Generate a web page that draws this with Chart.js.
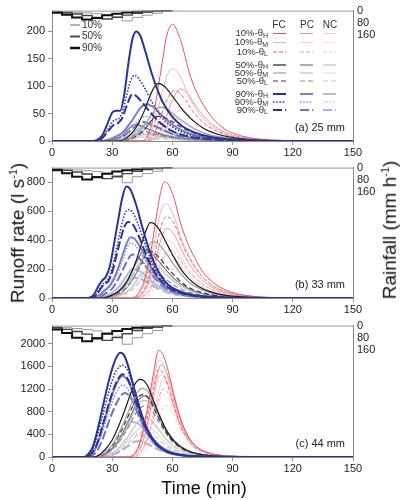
<!DOCTYPE html>
<html>
<head>
<meta charset="utf-8">
<script src="https://cdn.jsdelivr.net/npm/chart.js@4.4.1/dist/chart.umd.min.js"></script>
<style>
  body { margin: 0; background: #fff; width: 400px; height: 500px; position: relative; overflow: hidden;
         font-family: 'Liberation Sans', Arial, sans-serif; }
  canvas { position: absolute; left: 0; }
  .ttl { position: absolute; font-size: 19px; color: #111; white-space: nowrap; transform: translate(-50%, -50%); }
  .rot { transform: translate(-50%, -50%) rotate(-90deg); }
  .ttl sup { font-size: 11px; }
</style>
</head>
<body>
<canvas id="ca" width="400" height="160" style="top:0"></canvas>
<canvas id="cb" width="400" height="160" style="top:157px"></canvas>
<canvas id="cc" width="400" height="161" style="top:315px"></canvas>
<div class="ttl rot" style="left:18px;top:233px">Runoff rate (l s<sup>-1</sup>)</div>
<div class="ttl rot" style="left:390px;top:230px">Rainfall (mm h<sup>-1</sup>)</div>
<div class="ttl" style="left:204px;top:488px;font-size:18px">Time (min)</div>

<script>
// ---- ejes
const TIME_TICKS = [0, 30, 60, 90, 120, 150];
const RAIN_TICKS = [0, 80, 160];
const RAIN_MAX = 860;
const aTicks = [0, 50, 100, 150, 200];
const bTicks = [0, 200, 400, 600, 800];
const cTicks = [0, 400, 800, 1200, 1600, 2000];
const aMax = 238, bMax = 900, cMax = 2320;

// ---- hietogramas (mm/h, pasos de 5 min)
const hyetT = [0, 5, 10, 15, 20, 25, 30, 35, 40, 45, 50, 55, 60];
const aHy90 = [6, 14, 28, 45, 58, 48, 30, 20, 13, 8, 4, 2, 0];
const aHy50 = [4, 8, 14, 22, 32, 45, 55, 45, 30, 18, 10, 5, 0];
const aHy10 = [2, 5, 8, 11, 15, 20, 27, 40, 68, 45, 30, 18, 0];
const bHy90 = [8, 18, 37, 60, 78, 63, 40, 26, 17, 11, 5, 3, 0];
const bHy50 = [5, 11, 18, 29, 42, 60, 73, 60, 40, 24, 13, 7, 0];
const bHy10 = [3, 7, 11, 15, 20, 26, 36, 53, 100, 60, 40, 24, 0];
const cHy90 = [11, 25, 49, 79, 103, 84, 53, 35, 23, 14, 7, 4, 0];
const cHy50 = [7, 14, 25, 39, 56, 79, 97, 79, 53, 32, 18, 9, 0];
const cHy10 = [4, 9, 14, 19, 26, 35, 48, 70, 122, 79, 53, 32, 0];

// ---- (a) 25 mm  [tiempo min, caudal l/s]
const aB_FC_H = [[0,0],[20,0],[25,10],[28,35],[30,52],[32,55],[34,55],[36,85],[38,140],[40,185],[42,200],[44,192],[46,170],[50,120],[55,72],[60,44],[65,27],[70,17],[80,7],[90,3],[100,1],[120,0],[150,0]];
const aB_FC_M = [[0,0],[21,0],[25,6],[28,22],[31,38],[33,40],[35,52],[37,80],[39,108],[41,120],[43,115],[46,98],[50,70],[55,42],[60,26],[65,16],[70,10],[80,4],[90,2],[100,0],[150,0]];
const aB_FC_L = [[0,0],[21,0],[25,5],[28,18],[31,30],[33,33],[35,42],[37,62],[40,85],[42,82],[45,70],[50,48],[55,30],[60,18],[65,11],[70,7],[80,3],[90,1],[100,0],[150,0]];
const aB_PC_H = [[0,0],[25,0],[30,5],[35,15],[40,38],[44,60],[47,67],[50,63],[55,46],[60,30],[65,19],[70,12],[80,5],[90,2],[100,0],[150,0]];
const aB_PC_M = [[0,0],[26,0],[31,4],[36,12],[41,30],[46,45],[50,41],[55,29],[60,18],[65,11],[70,7],[80,3],[90,1],[100,0],[150,0]];
const aB_PC_L = [[0,0],[26,0],[31,3],[36,10],[41,25],[45,35],[49,31],[55,21],[60,13],[65,8],[70,5],[80,2],[90,0],[150,0]];
const aB_NC_H = [[0,0],[28,0],[34,3],[40,14],[44,25],[47,30],[51,27],[57,17],[63,9],[70,5],[80,2],[95,0],[150,0]];
const aB_NC_M = [[0,0],[28,0],[34,2],[40,9],[44,16],[47,20],[51,18],[57,11],[63,6],[70,3],[80,1],[95,0],[150,0]];
const aB_NC_L = [[0,0],[28,0],[34,2],[40,7],[43,12],[46,15],[50,13],[56,8],[62,5],[70,2],[80,1],[95,0],[150,0]];
const aK_FC_H = [[0,0],[33,0],[38,8],[42,25],[46,55],[50,92],[53,105],[56,100],[60,82],[64,62],[70,38],[76,22],[85,10],[95,4],[105,1],[120,0],[150,0]];
const aK_FC_M = [[0,0],[34,0],[39,5],[43,15],[47,34],[51,55],[54,62],[57,59],[61,48],[65,36],[71,22],[77,13],[86,6],[96,2],[110,0],[150,0]];
const aK_FC_L = [[0,0],[34,0],[39,4],[43,11],[47,25],[50,39],[53,45],[56,43],[60,35],[64,26],[70,16],[76,9],[85,4],[95,1],[110,0],[150,0]];
const aK_PC_H = [[0,0],[28,0],[32,4],[35,10],[38,22],[41,30],[44,28],[48,22],[53,14],[58,9],[65,5],[75,2],[90,0],[150,0]];
const aK_PC_M = [[0,0],[30,0],[35,3],[39,9],[42,17],[45,22],[48,21],[52,16],[58,10],[65,5],[75,2],[90,0],[150,0]];
const aK_PC_L = [[0,0],[30,0],[35,2],[39,7],[42,14],[44,18],[47,17],[52,12],[58,7],[65,4],[75,1],[90,0],[150,0]];
const aK_NC_H = [[0,0],[32,0],[37,2],[41,6],[44,10],[46,12],[49,11],[54,8],[60,5],[67,2],[80,0],[150,0]];
const aK_NC_M = [[0,0],[32,0],[37,1],[41,4],[44,7],[46,9],[49,8],[54,6],[60,3],[67,2],[80,0],[150,0]];
const aK_NC_L = [[0,0],[32,0],[37,1],[41,3],[43,5],[45,7],[48,6],[54,4],[60,2],[70,1],[80,0],[150,0]];
const aR_FC_H = [[0,0],[45,0],[48,12],[50,35],[53,100],[55,145],[57,190],[60,213],[64,185],[69,118],[74,75],[80,42],[86,22],[92,12],[100,5],[110,2],[125,0],[150,0]];
const aR_FC_M = [[0,0],[45,0],[48,7],[50,20],[53,60],[55,90],[57,117],[60,132],[64,117],[69,75],[74,47],[80,26],[86,14],[92,7],[100,3],[110,1],[125,0],[150,0]];
const aR_FC_L = [[0,0],[46,0],[49,5],[51,14],[54,42],[56,63],[58,81],[61,92],[65,82],[70,55],[75,35],[81,20],[87,11],[95,5],[105,2],[120,0],[150,0]];
const aR_PC_H = [[0,0],[47,0],[51,5],[54,18],[57,45],[60,75],[64,95],[68,85],[72,62],[77,40],[83,22],[90,11],[100,4],[112,1],[125,0],[150,0]];
const aR_PC_M = [[0,0],[47,0],[51,4],[54,12],[57,30],[59,45],[62,60],[66,54],[71,36],[76,22],[82,12],[90,5],[100,2],[115,0],[150,0]];
const aR_PC_L = [[0,0],[47,0],[51,3],[54,10],[57,25],[60,42],[63,55],[67,50],[72,33],[77,21],[83,11],[90,5],[100,2],[115,0],[150,0]];
const aR_NC_H = [[0,0],[46,0],[50,3],[53,8],[56,18],[59,31],[62,40],[66,36],[71,24],[77,13],[84,6],[95,2],[110,0],[150,0]];
const aR_NC_M = [[0,0],[46,0],[50,2],[53,6],[56,13],[59,22],[62,28],[66,25],[71,17],[77,9],[84,4],[95,1],[110,0],[150,0]];
const aR_NC_L = [[0,0],[47,0],[51,2],[54,5],[57,11],[60,18],[62,22],[66,20],[71,13],[77,7],[84,3],[95,1],[110,0],[150,0]];

// ---- (b) 33 mm
const bB_FC_H = [[0,0],[18,0],[21,25],[23,80],[25,120],[27,150],[29,230],[31,380],[33,540],[35,690],[37,770],[39,750],[42,640],[45,490],[48,350],[52,210],[56,120],[60,70],[66,35],[72,17],[80,7],[90,2],[100,0],[150,0]];
const bB_FC_M = [[0,0],[19,0],[22,25],[24,70],[26,105],[28,130],[30,210],[32,330],[34,460],[36,570],[38,610],[40,595],[43,505],[46,385],[49,275],[53,165],[57,95],[61,55],[67,27],[73,13],[81,5],[90,2],[100,0],[150,0]];
const bB_FC_L = [[0,0],[19,0],[22,20],[24,60],[26,95],[28,115],[30,180],[32,285],[34,395],[36,490],[38,525],[40,512],[43,435],[46,330],[49,235],[53,140],[57,82],[61,48],[67,23],[73,11],[81,4],[90,1],[100,0],[150,0]];
const bB_PC_H = [[0,0],[20,0],[23,15],[26,50],[29,90],[32,170],[35,290],[37,370],[39,420],[41,410],[44,350],[47,270],[51,170],[55,100],[60,52],[66,25],[74,10],[84,3],[95,0],[150,0]];
const bB_PC_M = [[0,0],[20,0],[23,12],[26,45],[29,80],[32,150],[35,260],[37,335],[39,380],[41,370],[44,315],[47,245],[51,155],[55,90],[60,47],[66,22],[74,9],[84,3],[95,0],[150,0]];
const bB_PC_L = [[0,0],[21,0],[24,10],[27,35],[30,65],[33,130],[36,215],[38,270],[40,300],[42,292],[45,250],[48,195],[52,125],[56,73],[61,38],[67,18],[75,7],[85,2],[95,0],[150,0]];
const bB_NC_H = [[0,0],[22,0],[26,10],[30,35],[34,90],[37,150],[40,200],[43,190],[47,150],[51,100],[56,58],[62,28],[70,11],[80,4],[95,0],[150,0]];
const bB_NC_M = [[0,0],[22,0],[26,8],[30,30],[34,76],[37,128],[40,170],[43,162],[47,128],[51,85],[56,49],[62,24],[70,9],[80,3],[95,0],[150,0]];
const bB_NC_L = [[0,0],[23,0],[27,7],[31,25],[35,62],[38,105],[41,140],[44,133],[48,105],[52,70],[57,40],[63,20],[71,8],[81,2],[95,0],[150,0]];
const bK_FC_H = [[0,0],[25,0],[30,20],[34,55],[38,130],[42,260],[45,390],[47,470],[49,520],[51,512],[54,460],[57,380],[60,300],[64,205],[68,135],[73,80],[79,42],[86,20],[95,8],[105,3],[120,0],[150,0]];
const bK_FC_M = [[0,0],[26,0],[31,15],[35,40],[39,100],[43,200],[46,295],[48,355],[50,390],[52,383],[55,345],[58,285],[61,225],[65,155],[69,100],[74,60],[80,32],[87,15],[96,6],[106,2],[120,0],[150,0]];
const bK_FC_L = [[0,0],[25,0],[30,12],[34,35],[38,85],[42,170],[45,250],[48,325],[50,318],[53,285],[56,235],[59,185],[63,128],[67,82],[72,50],[78,26],[85,12],[94,5],[104,1],[120,0],[150,0]];
const bK_PC_H = [[0,0],[24,0],[29,15],[33,45],[37,110],[40,190],[43,270],[46,330],[48,322],[51,290],[54,240],[58,175],[62,120],[67,72],[73,38],[80,18],[90,6],[100,2],[115,0],[150,0]];
const bK_PC_M = [[0,0],[24,0],[29,12],[33,38],[37,95],[40,160],[43,230],[46,280],[48,273],[51,246],[54,204],[58,148],[62,102],[67,61],[73,32],[80,15],[90,5],[100,1],[115,0],[150,0]];
const bK_PC_L = [[0,0],[24,0],[29,10],[33,33],[36,75],[39,135],[42,195],[45,240],[47,234],[50,210],[53,175],[57,127],[61,87],[66,52],[72,27],[79,13],[89,4],[100,1],[115,0],[150,0]];
const bK_NC_H = [[0,0],[26,0],[31,8],[35,25],[39,65],[43,135],[46,180],[49,172],[53,138],[58,90],[63,55],[69,28],[77,12],[88,4],[100,0],[150,0]];
const bK_NC_M = [[0,0],[26,0],[31,7],[35,21],[39,54],[43,112],[46,150],[49,143],[53,115],[58,75],[63,46],[69,23],[77,10],[88,3],[100,0],[150,0]];
const bK_NC_L = [[0,0],[26,0],[31,6],[35,17],[39,45],[42,85],[45,120],[48,115],[52,92],[57,60],[62,36],[68,18],[76,8],[87,2],[100,0],[150,0]];
const bR_FC_H = [[0,0],[40,0],[43,30],[46,120],[49,300],[52,560],[54,720],[56,800],[58,785],[61,680],[64,520],[67,400],[71,280],[76,165],[82,90],[89,42],[97,17],[107,5],[120,0],[150,0]];
const bR_FC_M = [[0,0],[40,0],[43,25],[46,95],[49,245],[52,455],[54,585],[56,650],[58,638],[61,555],[64,425],[67,325],[71,225],[76,135],[82,72],[89,34],[97,14],[107,4],[120,0],[150,0]];
const bR_FC_L = [[0,0],[41,0],[44,25],[47,90],[50,230],[53,420],[55,520],[57,560],[59,550],[62,480],[65,370],[68,285],[72,195],[77,118],[83,62],[90,29],[98,12],[108,3],[120,0],[150,0]];
const bR_PC_H = [[0,0],[41,0],[44,18],[47,70],[50,185],[53,340],[55,430],[57,480],[59,470],[62,410],[65,318],[68,245],[72,168],[77,100],[83,53],[90,25],[98,10],[108,3],[120,0],[150,0]];
const bR_PC_M = [[0,0],[41,0],[44,15],[47,58],[50,155],[53,285],[55,360],[57,400],[59,392],[62,342],[65,265],[68,204],[72,140],[77,83],[83,44],[90,21],[98,8],[108,2],[120,0],[150,0]];
const bR_PC_L = [[0,0],[42,0],[45,12],[48,48],[51,128],[54,235],[56,297],[58,330],[60,323],[63,282],[66,219],[69,168],[73,115],[78,69],[84,36],[91,17],[99,7],[109,2],[120,0],[150,0]];
const bR_NC_H = [[0,0],[42,0],[45,11],[48,40],[51,110],[54,215],[57,300],[60,290],[63,245],[67,175],[72,105],[78,55],[85,26],[94,10],[105,3],[120,0],[150,0]];
const bR_NC_M = [[0,0],[42,0],[45,9],[48,33],[51,92],[54,180],[57,250],[60,242],[63,204],[67,146],[72,88],[78,46],[85,22],[94,8],[105,2],[120,0],[150,0]];
const bR_NC_L = [[0,0],[43,0],[46,7],[49,27],[52,74],[55,144],[58,200],[61,194],[64,163],[68,117],[73,70],[79,37],[86,17],[95,6],[106,2],[120,0],[150,0]];

// ---- (c) 44 mm
const cB_FC_H = [[0,0],[16,0],[18,50],[20,150],[22,380],[24,680],[26,1000],[28,1300],[30,1560],[32,1750],[34,1840],[36,1790],[38,1600],[41,1200],[45,720],[48,450],[52,240],[56,125],[60,65],[66,28],[74,10],[85,3],[100,0],[150,0]];
const cB_FC_M = [[0,0],[16,0],[18,40],[20,120],[22,300],[24,560],[26,840],[28,1110],[30,1350],[32,1520],[35,1620],[37,1570],[39,1410],[42,1060],[45,720],[48,460],[52,250],[56,130],[60,68],[66,29],[74,10],[85,3],[100,0],[150,0]];
const cB_FC_L = [[0,0],[17,0],[19,40],[21,120],[23,290],[25,530],[27,780],[29,1020],[31,1230],[33,1380],[35,1460],[37,1420],[39,1280],[42,960],[45,650],[48,420],[52,225],[56,118],[60,62],[66,26],[74,9],[85,2],[100,0],[150,0]];
const cB_PC_H = [[0,0],[17,0],[19,35],[21,110],[23,270],[25,500],[27,750],[29,990],[31,1200],[33,1350],[35,1430],[37,1390],[39,1260],[42,950],[45,650],[48,420],[52,225],[56,118],[60,62],[66,26],[74,9],[85,2],[100,0],[150,0]];
const cB_PC_M = [[0,0],[17,0],[19,30],[21,95],[23,240],[25,440],[27,660],[29,880],[31,1060],[33,1200],[35,1270],[37,1235],[39,1120],[42,845],[45,575],[48,372],[52,200],[56,105],[60,55],[66,23],[74,8],[85,2],[100,0],[150,0]];
const cB_PC_L = [[0,0],[18,0],[20,28],[22,85],[24,210],[26,390],[28,590],[30,780],[32,940],[34,1065],[36,1130],[38,1100],[40,995],[43,750],[46,510],[49,330],[53,178],[57,93],[61,49],[67,20],[75,7],[86,2],[100,0],[150,0]];
const cB_NC_H = [[0,0],[20,0],[24,20],[28,80],[32,220],[36,430],[40,620],[43,590],[46,490],[50,330],[54,200],[58,115],[64,50],[72,17],[82,5],[95,0],[150,0]];
const cB_NC_M = [[0,0],[21,0],[25,14],[29,55],[33,150],[37,290],[41,420],[44,400],[47,332],[51,224],[55,136],[59,78],[65,34],[73,12],[83,3],[95,0],[150,0]];
const cB_NC_L = [[0,0],[22,0],[26,9],[30,36],[34,100],[38,195],[42,280],[45,266],[48,221],[52,150],[56,91],[60,52],[66,23],[74,8],[84,2],[95,0],[150,0]];
const cK_FC_H = [[0,0],[21,0],[24,50],[27,150],[30,300],[33,530],[36,800],[39,1100],[41,1270],[44,1370],[46,1340],[48,1230],[50,1050],[53,780],[56,540],[59,360],[63,210],[67,120],[72,62],[80,22],[90,6],[100,0],[150,0]];
const cK_FC_M = [[0,0],[22,0],[25,45],[28,130],[31,265],[34,470],[37,710],[40,975],[42,1120],[45,1210],[47,1185],[49,1090],[51,930],[54,690],[57,478],[60,318],[64,186],[68,106],[73,55],[81,19],[91,5],[100,0],[150,0]];
const cK_FC_L = [[0,0],[22,0],[25,40],[28,118],[31,240],[34,425],[37,645],[40,885],[42,1020],[45,1100],[47,1077],[49,990],[51,845],[54,627],[57,434],[60,289],[64,169],[68,96],[73,50],[81,17],[91,4],[100,0],[150,0]];
const cK_PC_H = [[0,0],[23,0],[26,40],[29,115],[32,235],[35,415],[38,630],[41,865],[43,1000],[46,1080],[48,1057],[50,972],[52,830],[55,615],[58,426],[61,284],[65,166],[69,94],[74,49],[82,17],[92,4],[100,0],[150,0]];
const cK_PC_M = [[0,0],[23,0],[26,37],[29,106],[32,218],[35,384],[38,583],[41,800],[43,926],[46,1000],[48,979],[50,900],[52,768],[55,570],[58,394],[61,263],[65,154],[69,87],[74,45],[82,16],[92,4],[100,0],[150,0]];
const cK_PC_L = [[0,0],[23,0],[26,33],[29,95],[32,196],[35,346],[38,525],[41,720],[43,833],[46,900],[48,881],[50,810],[52,691],[55,513],[58,355],[61,237],[65,138],[69,78],[74,41],[82,14],[92,3],[100,0],[150,0]];
const cK_NC_H = [[0,0],[24,0],[28,30],[32,110],[36,270],[40,480],[43,630],[46,700],[49,660],[52,540],[56,350],[60,210],[65,105],[71,45],[80,14],[92,3],[100,0],[150,0]];
const cK_NC_M = [[0,0],[24,0],[28,24],[32,86],[36,212],[40,377],[43,495],[46,550],[49,519],[52,424],[56,275],[60,165],[65,83],[71,35],[80,11],[92,2],[100,0],[150,0]];
const cK_NC_L = [[0,0],[24,0],[28,20],[32,70],[36,174],[40,309],[43,405],[46,450],[49,424],[52,347],[56,225],[60,135],[65,68],[71,29],[80,9],[92,2],[100,0],[150,0]];
const cR_FC_H = [[0,0],[38,0],[41,60],[43,180],[45,420],[47,760],[49,1150],[51,1560],[53,1880],[55,1830],[57,1640],[59,1370],[61,1060],[64,680],[67,420],[70,250],[74,135],[80,55],[88,18],[98,5],[110,0],[150,0]];
const cR_FC_M = [[0,0],[38,0],[41,55],[43,164],[45,382],[47,690],[49,1045],[51,1420],[53,1710],[55,1665],[57,1490],[59,1245],[61,965],[64,620],[67,382],[70,228],[74,123],[80,50],[88,16],[98,5],[110,0],[150,0]];
const cR_FC_L = [[0,0],[38,0],[41,50],[43,148],[45,344],[47,622],[49,942],[51,1278],[53,1540],[55,1500],[57,1343],[59,1122],[61,868],[64,557],[67,344],[70,205],[74,111],[80,45],[88,15],[98,4],[110,0],[150,0]];
const cR_PC_H = [[0,0],[39,0],[42,52],[44,155],[46,362],[48,655],[50,990],[52,1345],[54,1620],[56,1578],[58,1413],[60,1180],[62,913],[65,586],[68,362],[71,215],[75,116],[81,47],[89,16],[99,4],[110,0],[150,0]];
const cR_PC_M = [[0,0],[39,0],[42,46],[44,139],[46,324],[48,586],[50,886],[52,1203],[54,1450],[56,1412],[58,1264],[60,1056],[62,817],[65,525],[68,324],[71,192],[75,104],[81,42],[89,14],[99,4],[110,0],[150,0]];
const cR_PC_L = [[0,0],[40,0],[43,38],[45,115],[47,268],[49,485],[51,733],[53,995],[55,1200],[57,1168],[59,1046],[61,874],[63,676],[66,434],[69,268],[72,159],[76,86],[82,35],[90,12],[100,3],[110,0],[150,0]];
const cR_NC_H = [[0,0],[40,0],[43,43],[45,130],[47,302],[49,545],[51,825],[53,1120],[55,1350],[57,1315],[59,1177],[61,983],[63,761],[66,489],[69,302],[72,179],[76,97],[82,39],[90,13],[100,3],[110,0],[150,0]];
const cR_NC_M = [[0,0],[40,0],[43,35],[45,106],[47,246],[49,444],[51,672],[53,913],[55,1100],[57,1071],[59,959],[61,801],[63,620],[66,398],[69,246],[72,146],[76,79],[82,32],[90,11],[100,3],[110,0],[150,0]];
const cR_NC_L = [[0,0],[41,0],[44,29],[46,87],[48,201],[50,363],[52,550],[54,747],[56,900],[58,876],[60,785],[62,655],[64,507],[67,326],[70,201],[73,119],[77,65],[83,26],[91,9],[101,2],[110,0],[150,0]];

// ---- estilos: grupo (R 10%, K 50%, B 90%) x humedad (H, M, L) ; colores [FC, PC, NC]
const looks = {
  R: { H: { w: 1.0, d: [],      c: ['#e0575c', '#ee9294', '#f6c6c8'] },
       M: { w: 1.0, d: [],      c: ['#efb0bb', '#f3cdd4', '#f8e2e6'] },
       L: { w: 1.0, d: [4, 2],  c: ['#e26569', '#ef9fa1', '#f6cdce'] } },
  K: { H: { w: 1.2, d: [],      c: ['#1c1c1c', '#7a7a7a', '#c2c2c2'] },
       M: { w: 1.2, d: [],      c: ['#a0a0a0', '#c2c2c2', '#dedede'] },
       L: { w: 1.2, d: [5, 3],  c: ['#383838', '#8a8a8a', '#c6c6c6'] } },
  B: { H: { w: 2.0, d: [],      c: ['#2a3592', '#7a80c6', '#b6b9e0'] },
       M: { w: 1.6, d: [1.6, 1.6], c: ['#3440a0', '#8f93ce', '#c8cae9'] },
       L: { w: 2.0, d: [9, 3],  c: ['#2a3592', '#6c72be', '#adb1dc'] } }
};
const hyLooks = [['90', 2.0, '#111'], ['50', 1.4, '#444'], ['10', 1.0, '#9a9a9a']];

const panelA = [
  [aB_FC_H,'B','H',0],[aB_FC_M,'B','M',0],[aB_FC_L,'B','L',0],[aK_FC_H,'K','H',0],[aK_FC_M,'K','M',0],[aK_FC_L,'K','L',0],[aR_FC_H,'R','H',0],[aR_FC_M,'R','M',0],[aR_FC_L,'R','L',0],
  [aB_PC_H,'B','H',1],[aB_PC_M,'B','M',1],[aB_PC_L,'B','L',1],[aK_PC_H,'K','H',1],[aK_PC_M,'K','M',1],[aK_PC_L,'K','L',1],[aR_PC_H,'R','H',1],[aR_PC_M,'R','M',1],[aR_PC_L,'R','L',1],
  [aB_NC_H,'B','H',2],[aB_NC_M,'B','M',2],[aB_NC_L,'B','L',2],[aK_NC_H,'K','H',2],[aK_NC_M,'K','M',2],[aK_NC_L,'K','L',2],[aR_NC_H,'R','H',2],[aR_NC_M,'R','M',2],[aR_NC_L,'R','L',2]
];
const panelB = [
  [bB_FC_H,'B','H',0],[bB_FC_M,'B','M',0],[bB_FC_L,'B','L',0],[bK_FC_H,'K','H',0],[bK_FC_M,'K','M',0],[bK_FC_L,'K','L',0],[bR_FC_H,'R','H',0],[bR_FC_M,'R','M',0],[bR_FC_L,'R','L',0],
  [bB_PC_H,'B','H',1],[bB_PC_M,'B','M',1],[bB_PC_L,'B','L',1],[bK_PC_H,'K','H',1],[bK_PC_M,'K','M',1],[bK_PC_L,'K','L',1],[bR_PC_H,'R','H',1],[bR_PC_M,'R','M',1],[bR_PC_L,'R','L',1],
  [bB_NC_H,'B','H',2],[bB_NC_M,'B','M',2],[bB_NC_L,'B','L',2],[bK_NC_H,'K','H',2],[bK_NC_M,'K','M',2],[bK_NC_L,'K','L',2],[bR_NC_H,'R','H',2],[bR_NC_M,'R','M',2],[bR_NC_L,'R','L',2]
];
const panelC = [
  [cB_FC_H,'B','H',0],[cB_FC_M,'B','M',0],[cB_FC_L,'B','L',0],[cK_FC_H,'K','H',0],[cK_FC_M,'K','M',0],[cK_FC_L,'K','L',0],[cR_FC_H,'R','H',0],[cR_FC_M,'R','M',0],[cR_FC_L,'R','L',0],
  [cB_PC_H,'B','H',1],[cB_PC_M,'B','M',1],[cB_PC_L,'B','L',1],[cK_PC_H,'K','H',1],[cK_PC_M,'K','M',1],[cK_PC_L,'K','L',1],[cR_PC_H,'R','H',1],[cR_PC_M,'R','M',1],[cR_PC_L,'R','L',1],
  [cB_NC_H,'B','H',2],[cB_NC_M,'B','M',2],[cB_NC_L,'B','L',2],[cK_NC_H,'K','H',2],[cK_NC_M,'K','M',2],[cK_NC_L,'K','L',2],[cR_NC_H,'R','H',2],[cR_NC_M,'R','M',2],[cR_NC_L,'R','L',2]
];

const FONT = "'Liberation Sans', Arial, sans-serif";
const tickFont = { family: FONT, size: 11 };

function buildSets(curves, hy) {
  const sets = [];
  // hietogramas encima
  hy.forEach((vals, i) => {
    const [, w, col] = hyLooks[i];
    sets.push({
      data: hyetT.map((t, k) => [t, vals[k]]),
      yAxisID: 'y2', stepped: 'after', borderColor: col, borderWidth: w,
      pointRadius: 0, fill: false
    });
  });
  curves.forEach(([data, g, m, cov]) => {
    const lk = looks[g][m];
    sets.push({
      data: data, yAxisID: 'y', borderColor: lk.c[cov], borderWidth: lk.w,
      borderDash: lk.d, pointRadius: 0, fill: false,
      cubicInterpolationMode: 'monotone'
    });
  });
  return sets;
}

// borde superior
const frame = {
  id: 'frame',
  afterDraw(ch) {
    const { ctx, chartArea: a } = ch;
    ctx.save();
    ctx.strokeStyle = '#999';
    ctx.lineWidth = 1;
    ctx.beginPath();
    ctx.moveTo(a.left, a.top + 0.5);
    ctx.lineTo(a.right, a.top + 0.5);
    ctx.stroke();
    ctx.restore();
  }
};

function tag(text) {
  return {
    id: 'tag',
    afterDraw(ch) {
      const { ctx, chartArea: a } = ch;
      ctx.save();
      ctx.font = '11px ' + FONT;
      ctx.fillStyle = '#222';
      ctx.textAlign = 'right';
      ctx.textBaseline = 'middle';
      ctx.fillText(text, a.right - 8, a.bottom - 13);
      ctx.restore();
    }
  };
}

// leyendas del panel (a)
const legendRows = [
  ['10%', 'H', 'R', 33.5], ['10%', 'M', 'R', 42.5], ['10%', 'L', 'R', 52],
  ['50%', 'H', 'K', 65], ['50%', 'M', 'K', 73], ['50%', 'L', 'K', 81],
  ['90%', 'H', 'B', 94], ['90%', 'M', 'B', 102], ['90%', 'L', 'B', 110]
];
const legendCols = [['FC', 279, 273, 286], ['PC', 307, 300, 313], ['NC', 330, 323, 336]];

const legends = {
  id: 'legends',
  afterDraw(ch) {
    const ctx = ch.ctx;
    ctx.save();
    ctx.textBaseline = 'middle';
    // grosor de linea
    hyLooks.slice().reverse().forEach(([p, w, col], i) => {
      const y = 25 + i * 11.5;
      ctx.strokeStyle = col;
      ctx.lineWidth = w + 0.5;
      ctx.setLineDash([]);
      ctx.beginPath(); ctx.moveTo(70, y); ctx.lineTo(80, y); ctx.stroke();
      ctx.fillStyle = '#333';
      ctx.font = '10px ' + FONT;
      ctx.textAlign = 'left';
      ctx.fillText(p + '%', 82, y);
    });
    // tabla FC / PC / NC
    ctx.font = '10px ' + FONT;
    ctx.fillStyle = '#333';
    ctx.textAlign = 'center';
    legendCols.forEach(([t, cx]) => ctx.fillText(t, cx, 25));
    legendRows.forEach(([p, m, g, y]) => {
      ctx.font = '7px ' + FONT;
      const ws = ctx.measureText(m).width;
      ctx.textAlign = 'right';
      ctx.fillStyle = '#333';
      ctx.fillText(m, 268, y + 2.5);
      ctx.font = '9.5px ' + FONT;
      ctx.fillText(p + '-\u03b8', 268 - ws, y);
      const lk = looks[g][m];
      legendCols.forEach(([, , x0, x1], k) => {
        ctx.strokeStyle = lk.c[k];
        ctx.lineWidth = lk.w;
        ctx.setLineDash(lk.d);
        ctx.beginPath(); ctx.moveTo(x0, y); ctx.lineTo(x1, y); ctx.stroke();
      });
    });
    ctx.restore();
  }
};

function makeChart(id, curves, hy, yMax, yTicks, label, extra) {
  const grid = { drawOnChartArea: false, tickLength: 4, color: '#999' };
  const plain = v => String(v);
  return new Chart(document.getElementById(id), {
    type: 'line',
    data: { datasets: buildSets(curves, hy) },
    options: {
      responsive: false, animation: false, devicePixelRatio: 1,
      layout: { padding: { top: 4, left: 0, right: 0, bottom: 0 } },
      plugins: { legend: { display: false }, tooltip: { enabled: false } },
      scales: {
        x: {
          type: 'linear', min: 0, max: 150,
          afterBuildTicks: s => { s.ticks = TIME_TICKS.map(v => ({ value: v })); },
          afterFit: s => { s.height = 19; },
          grid: grid, border: { color: '#888' },
          ticks: { font: tickFont, color: '#222', padding: 1, maxRotation: 0, autoSkip: false, callback: plain }
        },
        y: {
          position: 'left', min: 0, max: yMax,
          afterBuildTicks: s => { s.ticks = yTicks.map(v => ({ value: v })); },
          afterFit: s => { s.width = 52; },
          grid: grid, border: { color: '#888' },
          ticks: { font: tickFont, color: '#222', padding: 3, autoSkip: false, callback: plain }
        },
        y2: {
          position: 'right', reverse: true, min: 0, max: RAIN_MAX,
          afterBuildTicks: s => { s.ticks = RAIN_TICKS.map(v => ({ value: v })); },
          afterFit: s => { s.width = 47; },
          grid: { drawOnChartArea: false, drawTicks: false }, border: { color: '#888' },
          ticks: { font: tickFont, color: '#222', padding: 4, autoSkip: false, callback: plain }
        }
      }
    },
    plugins: [frame, tag(label)].concat(extra || [])
  });
}

makeChart('ca', panelA, [aHy90, aHy50, aHy10], aMax, aTicks, '(a) 25 mm', [legends]);
makeChart('cb', panelB, [bHy90, bHy50, bHy10], bMax, bTicks, '(b) 33 mm');
makeChart('cc', panelC, [cHy90, cHy50, cHy10], cMax, cTicks, '(c) 44 mm');
</script>
</body>
</html>
